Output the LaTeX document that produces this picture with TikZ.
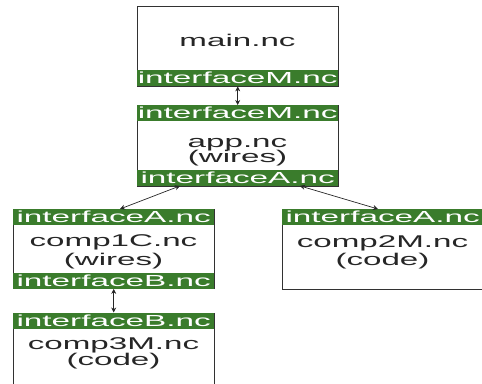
\documentclass[tikz,border=0pt]{standalone}
\usepackage{fontspec}
\setmainfont{Liberation Sans}
\newfontfamily\wf[FakeStretch=2.08]{Liberation Sans}
\newfontfamily\wb[FakeStretch=1.95]{Liberation Sans}
\usetikzlibrary{arrows.meta}
\definecolor{labgreen}{RGB}{58,124,44}
\definecolor{boxline}{RGB}{50,50,50}
\begin{document}
\begin{tikzpicture}[x=1pt,y=-1pt,
  body/.style={draw=boxline, line width=0.9pt, fill=white, minimum width=201pt, inner sep=0pt, anchor=north west},
  lab/.style={fill=labgreen, text=white, minimum width=201pt, minimum height=16pt, inner sep=0pt,
    text height=12pt, text depth=0.5pt, anchor=north west, font=\wf\fontsize{16}{16}\selectfont},
  txt/.style={anchor=base, inner sep=0pt, text=black!85, font=\wb\fontsize{17}{17}\selectfont},
  biarrow/.style={{Stealth[length=5pt,width=5pt]}-{Stealth[length=5pt,width=5pt]}, line width=0.7pt, draw=black!85}
]
\useasboundingbox (0,0) rectangle (482,383);
\clip (0,0) rectangle (482,383);
% main
\node[body, minimum height=80pt] (mainbox) at (137,6) {};
\node[lab] (mainM) at (137,70) {interfaceM.nc};
\node[txt] (maintxt) at (237.5,46.5) {main.nc};
% app
\node[body, minimum height=81pt] (appbox) at (137,105) {};
\node[lab] (appM) at (137,105) {interfaceM.nc};
\node[lab] (appA) at (137,169.5) {interfaceA.nc};
\node[txt] (apptxt1) at (237.5,147) {app.nc};
\node[txt] (apptxt2) at (237.5,162.5) {(wires)};
% comp1C
\node[body, minimum height=79pt] (c1box) at (13,209) {};
\node[lab] (c1A) at (13,209) {interfaceA.nc};
\node[lab] (c1B) at (13,272.5) {interfaceB.nc};
\node[txt] (c1txt1) at (113.5,246.5) {comp1C.nc};
\node[txt] (c1txt2) at (113.5,265) {(wires)};
% comp2M
\node[body, minimum height=80pt] (c2box) at (282,209) {};
\node[lab] (c2A) at (282,209) {interfaceA.nc};
\node[txt] (c2txt1) at (382.5,247) {comp2M.nc};
\node[txt] (c2txt2) at (382.5,265) {(code)};
% comp3M
\node[body, minimum height=100pt] (c3box) at (13,312.5) {};
\node[lab] (c3B) at (13,312.5) {interfaceB.nc};
\node[txt] (c3txt1) at (113.5,349) {comp3M.nc};
\node[txt] (c3txt2) at (113.5,365) {(code)};
% connectors
\draw[biarrow] (mainM.south) -- (appM.north);
\draw[biarrow] ([xshift=43pt]appA.south west) -- ([xshift=107pt]c1A.north west);
\draw[biarrow] ([xshift=163pt]appA.south west) -- ([xshift=96pt]c2A.north west);
\draw[biarrow] (c1B.south) -- (c3B.north);
\end{tikzpicture}
\end{document}
